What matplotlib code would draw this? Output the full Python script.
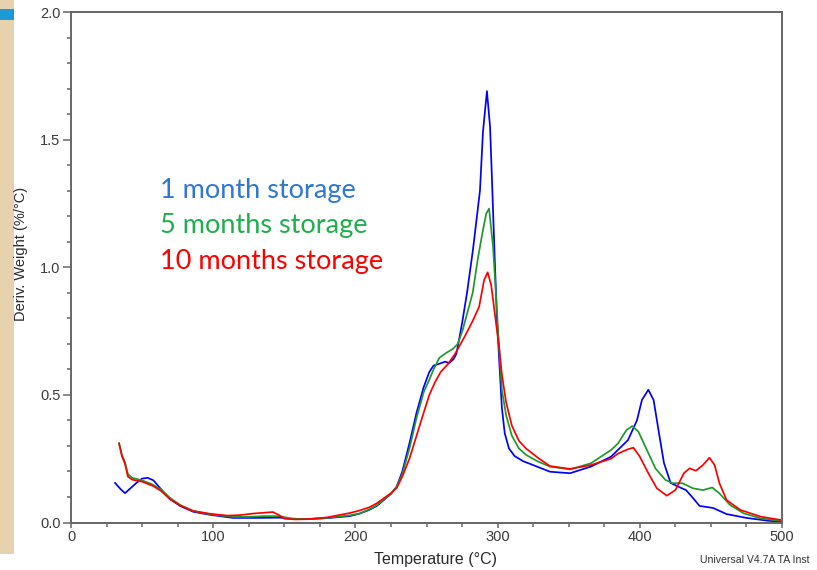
import matplotlib
matplotlib.use("Agg")
import matplotlib.pyplot as plt
from matplotlib.patches import Rectangle
from matplotlib.ticker import MultipleLocator

# ---- data (temperature °C, deriv. weight %/°C) ----
blue_points = [(31,0.155),(35,0.13),(38,0.115),(42,0.135),(46,0.155),(50,0.172),(54,0.175),(58,0.165),
    (62.6,0.135),(69.6,0.092),(76.7,0.065),(86,0.042),(98,0.03),(114,0.018),(130,0.018),(147,0.019),
    (155,0.015),(166,0.013),(180,0.017),(196,0.025),(203,0.035),(210,0.05),(215,0.065),(220,0.088),
    (225,0.112),(229,0.14),(233,0.2),(238,0.31),(243,0.43),(248,0.53),(252,0.59),(255,0.615),(258,0.62),
    (263,0.63),(266,0.625),(269,0.64),(271,0.66),(275,0.78),(278.5,0.9),(282.7,1.07),(287.6,1.3),
    (289.7,1.53),(292.5,1.69),(294.7,1.55),(296,1.35),(298,1.03),(299.6,0.79),(301,0.65),(303,0.45),
    (305,0.35),(308,0.29),(312,0.26),(318,0.24),(325,0.225),(336.8,0.199),(351,0.193),(365.6,0.219),
    (379.8,0.258),(391.7,0.323),(398,0.40),(401.5,0.48),(406,0.52),(409.7,0.48),(413.5,0.35),(417,0.233),
    (421.7,0.155),(427.6,0.139),(432.5,0.127),(437.4,0.096),(442,0.065),(451.5,0.057),(461,0.033),
    (475,0.018),(490,0.007),(500,0.003)]

green_points = [(33.8,0.31),(35.8,0.265),(38,0.235),(40,0.19),(43,0.175),(50,0.165),(57,0.15),(63,0.13),
    (70,0.095),(77,0.068),(86,0.045),(98,0.032),(114,0.022),(125,0.022),(135,0.025),(147,0.025),
    (155,0.015),(166,0.013),(180,0.018),(196,0.028),(203,0.035),(210,0.052),(215,0.067),(220,0.09),
    (225,0.113),(229,0.14),(233,0.19),(238,0.29),(243,0.41),(248,0.51),(252,0.56),(255,0.6),(259,0.645),
    (264,0.665),(268.5,0.68),(272,0.7),(275.5,0.755),(282.5,0.9),(286,1.03),(289.7,1.146),(292,1.21),
    (294,1.23),(296.8,1.08),(298.8,0.9),(301,0.69),(303,0.52),(306,0.42),(310,0.34),(315,0.29),
    (320,0.265),(328,0.24),(336.8,0.219),(351,0.208),(365.6,0.232),(379.8,0.284),(384.7,0.31),
    (390.6,0.362),(394.7,0.378),(399,0.356),(405,0.284),(411,0.212),(418,0.167),(423,0.154),(430,0.154),
    (437.3,0.134),(444.4,0.127),(451,0.137),(456,0.114),(463.4,0.069),(473,0.036),(485,0.016),(499,0.007)]

red_points = [(33.8,0.31),(35.8,0.26),(38,0.23),(40,0.18),(43,0.168),(50,0.16),(57.7,0.143),(63,0.125),
    (70,0.09),(77,0.066),(86,0.045),(98,0.034),(110,0.027),(119,0.029),(128,0.035),(135,0.038),
    (142,0.041),(146,0.03),(150,0.015),(158,0.012),(166,0.013),(180,0.02),(196,0.037),(203,0.047),
    (210,0.06),(215,0.075),(220,0.095),(225,0.115),(229,0.135),(233,0.18),(238,0.25),(243,0.34),
    (248,0.43),(252,0.5),(256,0.55),(260,0.59),(265,0.62),(270,0.66),(274,0.7),(277,0.73),(282.5,0.79),
    (287,0.845),(290.5,0.95),(293,0.98),(295.5,0.93),(298,0.82),(301,0.69),(303,0.58),(306,0.47),
    (310,0.38),(315,0.32),(320,0.29),(328,0.255),(336.8,0.221),(351,0.21),(365.6,0.225),(379.8,0.25),
    (384.7,0.27),(391.7,0.287),(395.5,0.293),(400,0.258),(406,0.193),(412,0.134),(419,0.105),
    (425,0.127),(431,0.193),(435,0.212),(439.5,0.203),(444.4,0.225),(449,0.254),(452.6,0.225),
    (456,0.154),(461,0.088),(470.8,0.049),(485,0.023),(499,0.01)]

series_labels = ["1 month storage", "5 months storage", "10 months storage"]
x_label = "Temperature (°C)"
y_label = "Deriv. Weight (%/°C)"
footer = "Universal V4.7A TA Inst"
x_ticks = [0, 100, 200, 300, 400, 500]
y_ticks = [0.0, 0.5, 1.0, 1.5, 2.0]

line_colors = ["#0000FF", "#1E9A2A", "#FF0000"]
text_colors = ["#2F78D2", "#1FAF4B", "#FF0000"]

W, H = 817, 570
fig = plt.figure(figsize=(W/100, H/100), dpi=100)
fig.patch.set_facecolor("white")

# left decorative strip
fig.patches.append(Rectangle((0, 1-554/H), 14/W, 554/H, transform=fig.transFigure,
                             facecolor="#E6D3AE", edgecolor="none", zorder=0))
fig.patches.append(Rectangle((0, 1-20/H), 14/W, 11/H, transform=fig.transFigure,
                             facecolor="#1B9AD6", edgecolor="none", zorder=0))

ax = fig.add_axes([71/W, 1-522.5/H, 711/W, 510.5/H])
ax.set_zorder(3)
ax.patch.set_alpha(0)
spine_col = "#666666"
for s in ax.spines.values():
    s.set_color(spine_col)
    s.set_linewidth(1.4)

for pts, c in zip([blue_points, green_points, red_points], line_colors):
    xs = [p[0] for p in pts]
    ys = [p[1] for p in pts]
    ax.plot(xs, ys, color=c, lw=1.25, solid_joinstyle="round")

ax.set_xlim(0, 500)
ax.set_ylim(0, 2.0)
ax.set_xticks(x_ticks)
ax.set_xticklabels([str(t) for t in x_ticks])
ax.set_yticks(y_ticks)
ax.set_yticklabels([f"{t:.1f}" for t in y_ticks])
ax.xaxis.set_minor_locator(MultipleLocator(25))
ax.yaxis.set_minor_locator(MultipleLocator(0.1))
ax.tick_params(axis="both", which="major", direction="out", length=5.5, width=1.1,
               color=spine_col, labelsize=10.5, labelcolor="#3A3A3A", pad=2)
ax.tick_params(axis="both", which="minor", direction="out", length=3.2, width=1.1, color=spine_col)
ax.tick_params(axis="x", which="major", length=3.5)
for lab in ax.get_xticklabels() + ax.get_yticklabels():
    lab.set_family("Liberation Sans")

ax.set_xlabel(x_label, fontsize=11.5, family="Liberation Sans", color="#2A2A2A")
ax.set_ylabel(y_label, fontsize=10.5, family="Liberation Sans", color="#2A2A2A")
ax.xaxis.set_label_coords((436-71)/711, (522.5-552)/510.5)
ax.yaxis.set_label_coords((28-71)/711, (522.5-254)/510.5)

baselines = [197.5, 233.3, 269]
for lab, c, b in zip(series_labels, text_colors, baselines):
    fig.text(160/W, 1-b/H, lab, color=c, fontsize=19.5, family="Lato",
             ha="left", va="baseline")

fig.text(700/W, 1-560/H, footer, fontsize=7.6, family="Liberation Sans",
         color="#333333", ha="left", va="center")

fig.savefig("out.png", dpi=100)
